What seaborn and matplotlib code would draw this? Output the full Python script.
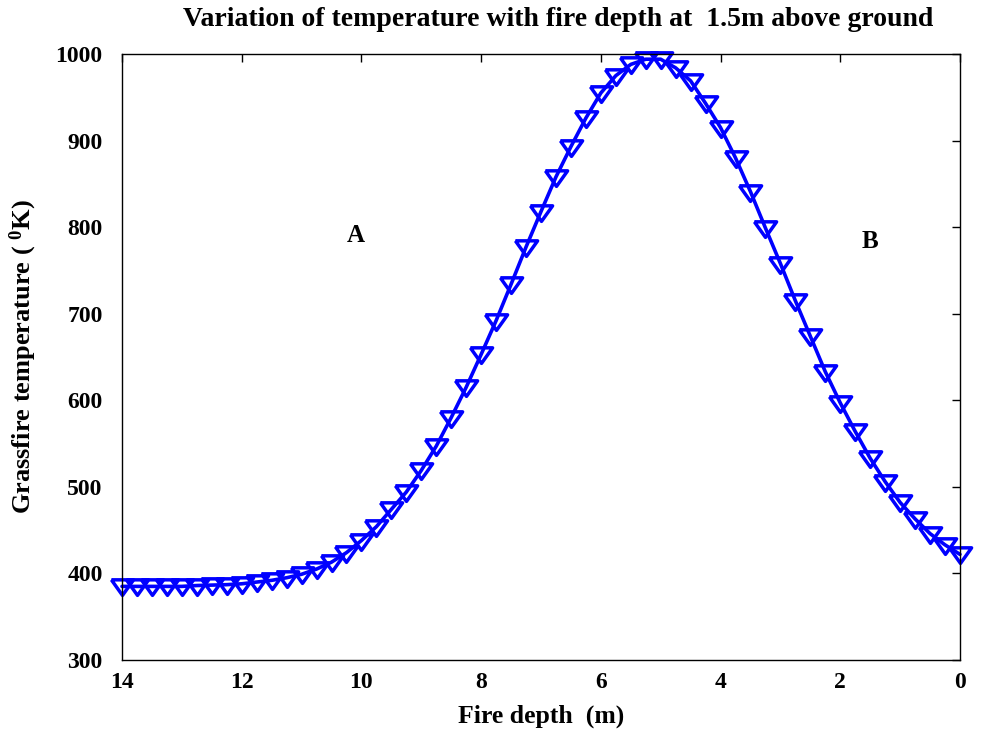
import numpy as np
import pandas as pd
import matplotlib
matplotlib.use("Agg")
import matplotlib.pyplot as plt
import seaborn as sns

# Fire depth (m) and temperature (K)
depth = [14.0, 13.75, 13.5, 13.25, 13.0, 12.75, 12.5, 12.25, 12.0, 11.75,
         11.5, 11.25, 11.0, 10.75, 10.5, 10.25, 10.0, 9.75, 9.5, 9.25,
         9.0, 8.75, 8.5, 8.25, 8.0, 7.75, 7.5, 7.25, 7.0, 6.75,
         6.5, 6.25, 6.0, 5.75, 5.5, 5.25, 5.0, 4.75, 4.5, 4.25,
         4.0, 3.75, 3.5, 3.25, 3.0, 2.75, 2.5, 2.25, 2.0, 1.75,
         1.5, 1.25, 1.0, 0.75, 0.5, 0.25, 0.0]
temperature = [385, 385, 385, 385, 385, 386, 386.5, 387, 388, 390,
               392, 395, 399, 405, 413, 424, 438, 454, 474, 494,
               519, 547, 580, 615, 653, 692, 734, 777, 818, 858,
               893, 926, 955, 975, 988, 994, 994, 984, 969, 943,
               915, 880, 841, 799, 758, 715, 674, 633, 597, 564,
               533, 506, 482, 463, 446, 433, 422]

x_ticks = [0, 2, 4, 6, 8, 10, 12, 14]
y_ticks = [300, 400, 500, 600, 700, 800, 900, 1000]

df = pd.DataFrame({"depth": depth, "temp": temperature})

sns.set_theme(style="white")
plt.rcParams.update({
    "font.family": ["Liberation Serif", "DejaVu Serif"],
    "font.weight": "bold",
    "text.color": "black",
    "axes.labelcolor": "black",
    "axes.labelweight": "bold",
    "axes.titleweight": "bold",
    "mathtext.default": "regular",
    "axes.edgecolor": "black",
    "axes.linewidth": 1.0,
    "xtick.direction": "in",
    "ytick.direction": "in",
    "xtick.top": True,
    "ytick.right": True,
    "xtick.major.size": 5.8,
    "ytick.major.size": 5.8,
    "xtick.color": "black",
    "ytick.color": "black",
})

fig = plt.figure(figsize=(9.92, 7.36), dpi=100)
ax = fig.add_axes([0.123, 0.1033, 0.8447, 0.8233])

tri = [(-1.0, 0.6), (1.0, 0.6), (0.0, -0.8), (-1.0, 0.6)]
sns.lineplot(data=df, x="depth", y="temp", ax=ax, color="#0000ff",
             linewidth=2.6, marker=tri, markersize=16,
             markerfacecolor="none", markeredgecolor="#0000ff",
             markeredgewidth=2.5, clip_on=False)

ax.set_xlim(14, 0)
ax.set_ylim(300, 1000)
ax.set_xticks(x_ticks)
ax.set_yticks(y_ticks)
ax.tick_params(axis="x", labelsize=17, pad=9, width=1.0)
ax.tick_params(axis="y", labelsize=17, pad=14, width=1.0)
for lab in ax.get_xticklabels() + ax.get_yticklabels():
    lab.set_fontweight("bold")

ax.set_xlabel("Fire depth  (m)", fontsize=18.5, labelpad=8)
ax.set_ylabel(r"Grassfire temperature ( $^{0}$K)", fontsize=19, labelpad=12)
ax.set_title("Variation of temperature with fire depth at  1.5m above ground",
             fontsize=20, x=0.52, pad=20)

ax.text(10.1, 790, "A", fontsize=18, fontweight="bold", ha="center", va="center")
ax.text(1.5, 784, "B", fontsize=18, fontweight="bold", ha="center", va="center")

for s in ax.spines.values():
    s.set_visible(True)
    s.set_color("black")

fig.savefig("out.png", dpi=100)
